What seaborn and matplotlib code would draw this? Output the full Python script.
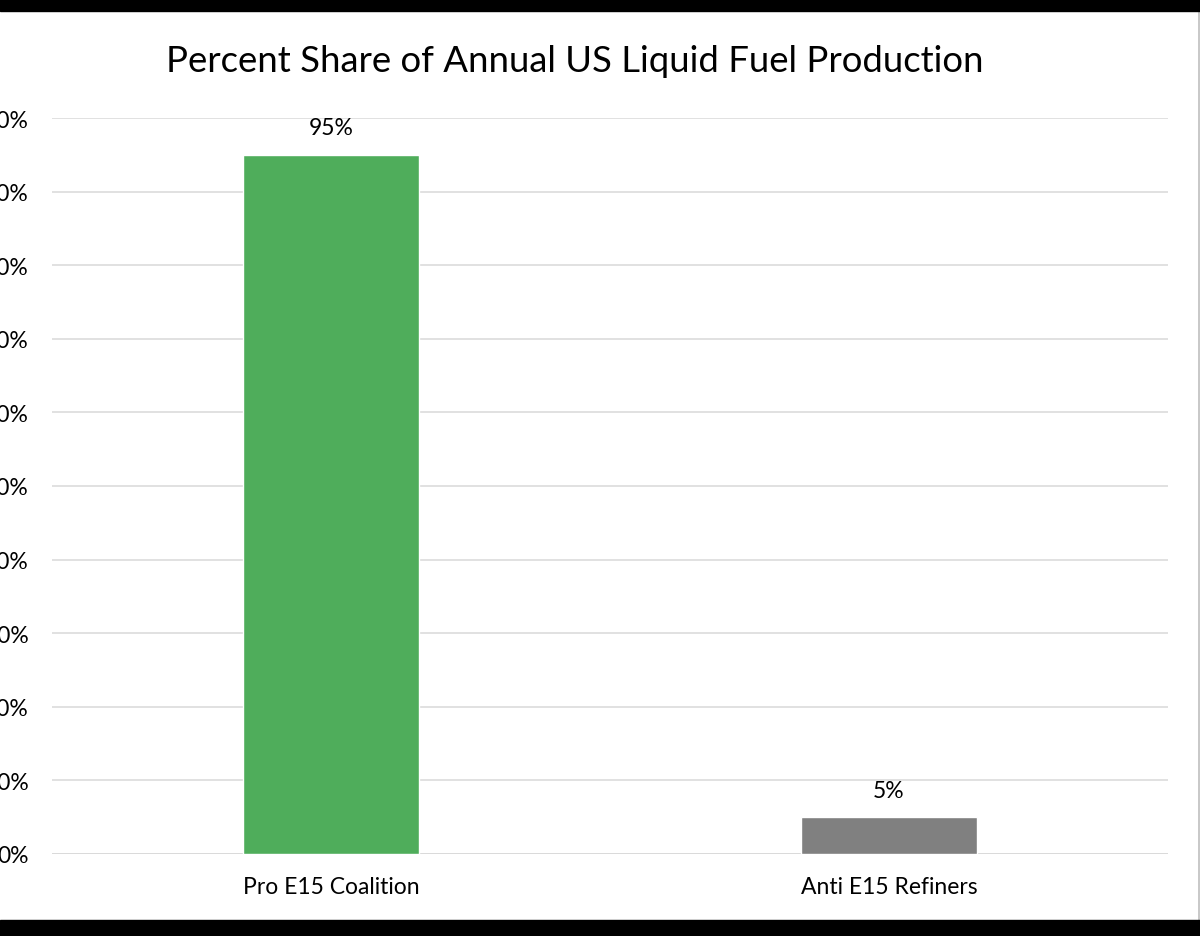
import matplotlib
matplotlib.use("Agg")
import matplotlib.pyplot as plt
import matplotlib.ticker as mticker
import seaborn as sns
import pandas as pd
from matplotlib.patches import Rectangle
from matplotlib.lines import Line2D

# ── data ──────────────────────────────────────────────────────────────────────
categories = ["Pro E15 Coalition", "Anti E15 Refiners"]
shares = [0.95, 0.05]
bar_colors = ["#4FAD5B", "#808080"]
title = "Percent Share of Annual US Liquid Fuel Production"

df = pd.DataFrame({"group": categories, "share": shares})

sns.set_theme(style="white")
plt.rcParams["font.family"] = ["Lato", "DejaVu Sans"]

fig = plt.figure(figsize=(12, 9.37), dpi=100)
ax = fig.add_axes([52 / 1200, (937 - 855) / 937, 1116 / 1200, 736 / 937])

sns.barplot(data=df, x="group", y="share", hue="group", palette=bar_colors,
            saturation=1, width=0.314, legend=False, ax=ax, zorder=3)

ax.set_ylim(0, 1)
ax.set_xlim(-0.5, 1.5)
ax.yaxis.set_major_locator(mticker.MultipleLocator(0.1))
ax.yaxis.set_major_formatter(mticker.PercentFormatter(1.0, decimals=0))
ax.grid(axis="y", color="#D9D9D9", linewidth=1.1, zorder=0)
ax.set_axisbelow(True)
for s in ax.spines.values():
    s.set_visible(False)
ax.axhline(0, color="#D9D9D9", linewidth=1.1, zorder=1)
ax.tick_params(axis="y", length=0, pad=17, labelsize=16.5, labelcolor="#000000")
ax.tick_params(axis="x", length=0, pad=16, labelsize=16.5, labelcolor="#000000")
ax.set_xlabel(""); ax.set_ylabel("")

for cont in ax.containers:
    ax.bar_label(cont, labels=[f"{v * 100:.0f}%" for v in cont.datavalues],
                 padding=12, fontsize=16.5, color="#000000")

fig.text(575 / 1200, 1 - 62 / 937, title, ha="center", va="center",
         fontsize=26.3, color="#000000")

# screenshot frame
fig.patches.append(Rectangle((0, 1 - 12 / 937), 1, 12 / 937, transform=fig.transFigure,
                             color="black", zorder=10))
fig.patches.append(Rectangle((0, 0), 1, 16 / 937, transform=fig.transFigure,
                             color="black", zorder=10))
fig.lines.append(Line2D([1198.5 / 1200] * 2, [0, 1], transform=fig.transFigure,
                        color="#BFBFBF", linewidth=1.2))

fig.savefig("out.png", dpi=100)
